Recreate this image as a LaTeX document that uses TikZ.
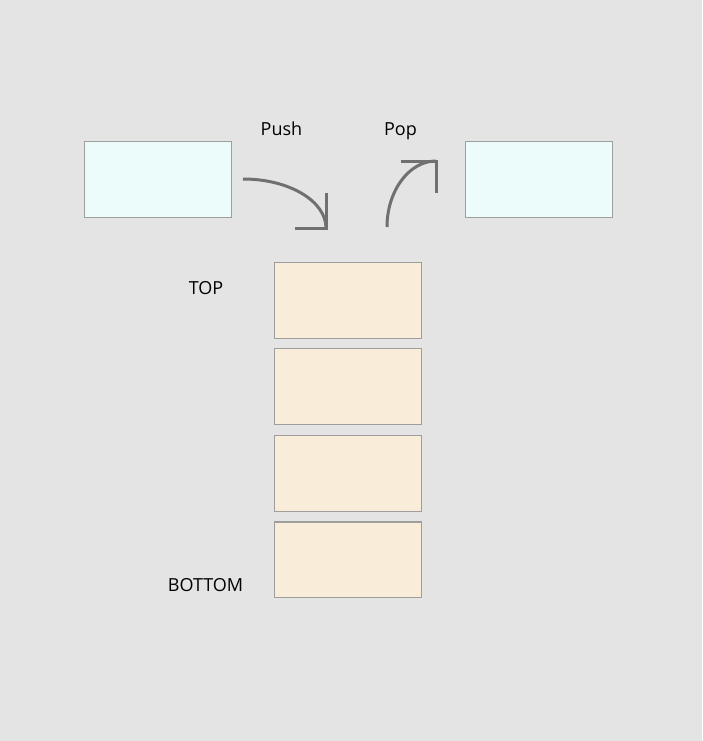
\documentclass[tikz,border=0pt]{standalone}
\usepackage{fontspec}
\setmainfont{Open Sans}
\definecolor{bg}{RGB}{228,228,228}
\definecolor{cyanfill}{RGB}{235,252,251}
\definecolor{creamfill}{RGB}{249,236,216}
\definecolor{boxline}{RGB}{158,158,158}
\definecolor{arrowgray}{RGB}{112,112,112}
\begin{document}
\begin{tikzpicture}[x=1pt,y=-1pt,
  outbox/.style={draw=boxline,line width=1.2pt,fill=cyanfill,minimum width=147pt,minimum height=75.5pt,inner sep=0pt,outer sep=0pt},
  stackbox/.style={draw=boxline,line width=1.2pt,fill=creamfill,minimum width=147pt,minimum height=75.5pt,inner sep=0pt,outer sep=0pt},
  lbl/.style={anchor=base,inner sep=0pt,font=\fontsize{18}{21}\selectfont},
  flow/.style={draw=arrowgray,line width=3pt},
  tip/.style={draw=arrowgray,line width=3pt,line join=miter}]
\fill[bg] (0,0) rectangle (702,741);
\useasboundingbox (0,0) rectangle (702,741);
\node[outbox] (left) at (158,179.5) {};
\node[outbox] (right) at (539,179.5) {};
\node[stackbox] (s1) at (348,300.5) {};
\node[stackbox] (s2) at (348,386.5) {};
\node[stackbox] (s3) at (348,473.5) {};
\node[stackbox] (s4) at (348,559.8) {};
\node[lbl] (push) at (281.5,135.3) {Push};
\node[lbl] (pop) at (400.5,135.3) {Pop};
\node[lbl] (top) at (206,294) {TOP};
\node[lbl] (bottom) at (205.5,591) {BOTTOM};
\coordinate (pushA) at (243,179);
\coordinate (pushB) at (326,228);
\coordinate (popA) at (387,227);
\coordinate (popB) at (436,161);
\draw[flow] (pushA) .. controls (289,179) and (326,201) .. (pushB);
\draw[tip] ([yshift=35pt]pushB) -- (pushB) -- ([xshift=-31pt]pushB);
\draw[flow] (popA) .. controls (387,191) and (409,161) .. (popB);
\draw[tip] ([xshift=-35pt]popB) -- (popB) -- ([yshift=-32pt]popB);
\end{tikzpicture}
\end{document}
